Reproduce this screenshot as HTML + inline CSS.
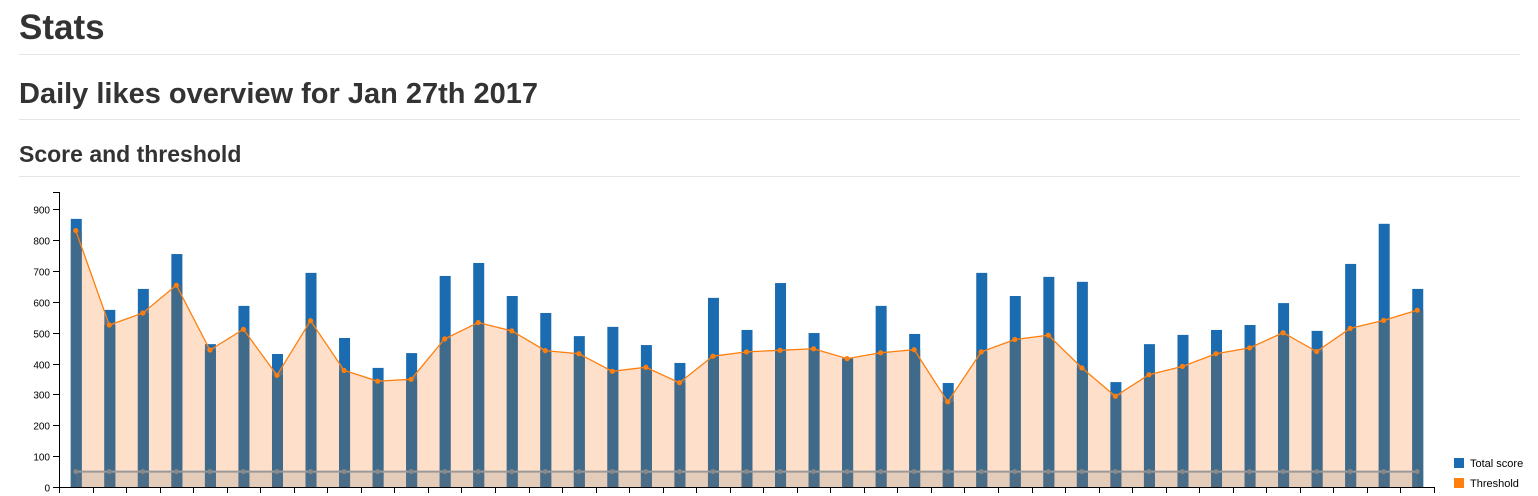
<!DOCTYPE html>
<html><head><meta charset="utf-8"><style>
body{margin:0;background:#fff;font-family:"Liberation Sans",Helvetica,Arial,sans-serif;color:#333;width:1538px;height:496px;overflow:hidden;position:relative}
h1,h2,h3{margin:0;position:absolute;left:19px;font-weight:bold;line-height:1}
.rule{position:absolute;left:19px;width:1501px;height:1px;background:#e5e5e5}
svg{position:absolute;left:0;top:0}
</style></head><body>
<h1 style="top:10px;font-size:35px">Stats</h1>
<div class="rule" style="top:54px"></div>
<h2 style="top:80px;font-size:29px">Daily likes overview for Jan 27th 2017</h2>
<div class="rule" style="top:119px"></div>
<h3 style="top:143px;font-size:23px">Score and threshold</h3>
<div class="rule" style="top:176px"></div>
<svg id="chart" width="1538" height="496"></svg>
<script>
const scores=[869,574,642,755,463,587,431,694,483,386,434,684,726,619,564,489,519,460,402,613,509,661,499,417,587,496,337,694,619,681,665,340,463,493,509,525,596,506,723,853,642];
const thresholds=[831,525,564,654,444,511,362,539,378,343,349,480,533,506,442,432,375,388,338,424,438,443,448,416,435,445,276,438,478,492,386,294,364,391,432,451,500,439,514,540,573];
const baseline=[50,50,50,50,50,50,50,50,50,50,50,50,50,50,50,50,50,50,50,50,50,50,50,50,50,50,50,50,50,50,50,50,50,50,50,50,50,50,50,50,50];
const yTicks=[0,100,200,300,400,500,600,700,800,900];
const legendLabels=["Total score","Threshold","Minimum"];
const NS="http://www.w3.org/2000/svg";
const svg=document.getElementById('chart');
const X0=59,X1=1434,Y0=487,PX=0.30855;
const bw=(X1-X0)/scores.length;
const xBand=i=>X0+i*bw;
const xC=i=>X0+i*bw+bw/2;
const y=v=>Y0-v*PX;
function mk(t,a){const e=document.createElementNS(NS,t);for(const k in a)e.setAttribute(k,a[k]);svg.appendChild(e);return e;}
// bars
scores.forEach((v,i)=>{const r=mk('rect',{x:xC(i)-5,y:y(v),width:11,height:Y0-y(v),fill:'#1a6bb0'});

});
// threshold area
let d='M'+xC(0)+','+Y0;thresholds.forEach((v,i)=>d+=' L'+xC(i)+','+y(v));d+=' L'+xC(thresholds.length-1)+','+Y0+'Z';
const ar=mk('path',{d:d,fill:'rgba(253,141,60,0.27)'});


// overlapped bar portion
scores.forEach((v,i)=>{const m=Math.min(v,thresholds[i]);const r=mk('rect',{x:xC(i)-5,y:y(m),width:11,height:Y0-y(m),fill:'#406a8a'});

});
let db='M'+xC(0)+','+Y0;baseline.forEach((v,i)=>db+=' L'+xC(i)+','+y(v));db+=' L'+xC(baseline.length-1)+','+Y0+'Z';
const ab=mk('path',{d:db,fill:'rgba(127,127,127,0.2)'});


const lb=mk('polyline',{points:baseline.map((v,i)=>xC(i)+','+y(v)).join(' '),fill:'none',stroke:'#999',"stroke-width":2});


baseline.forEach((v,i)=>{const c=mk('circle',{cx:xC(i),cy:y(v),r:2.5,fill:'#888'});

});
const lt=mk('polyline',{points:thresholds.map((v,i)=>xC(i)+','+y(v)).join(' '),fill:'none',stroke:'#ff7f0e',"stroke-width":1.3});


thresholds.forEach((v,i)=>{const c=mk('circle',{cx:xC(i),cy:y(v),r:2.6,fill:'#ff7f0e'});

});
// axes
const ya=mk('path',{d:'M53,192.5 H59.5 V'+(Y0+0.5)+' H53',fill:'none',stroke:'#000'});


yTicks.forEach(t=>{const yy=Math.round(y(t))+0.5;mk('line',{x1:53,x2:59,y1:yy,y2:yy,stroke:'#000'});
const tx=mk('text',{x:50,y:yy+4,"text-anchor":'end',"font-size":10,fill:'#000'});tx.textContent=t;

});
const xa=mk('line',{x1:59,x2:X1+0.5,y1:Y0+0.5,y2:Y0+0.5,stroke:'#000'});


for(let i=0;i<=scores.length;i++){const xx=Math.round(xBand(i))+0.5;mk('line',{x1:xx,x2:xx,y1:Y0,y2:Y0+6,stroke:'#000'});}
// legend
const lc=['#1a6bb0','#ff7f0e','#999'];
legendLabels.forEach((l,i)=>{const r=mk('rect',{x:1454,y:458+i*20,width:10,height:10,fill:lc[i]});


const t=mk('text',{x:1470,y:467+i*20,"font-size":11,fill:'#000'});t.textContent=l;

});
</script>
</body></html>
